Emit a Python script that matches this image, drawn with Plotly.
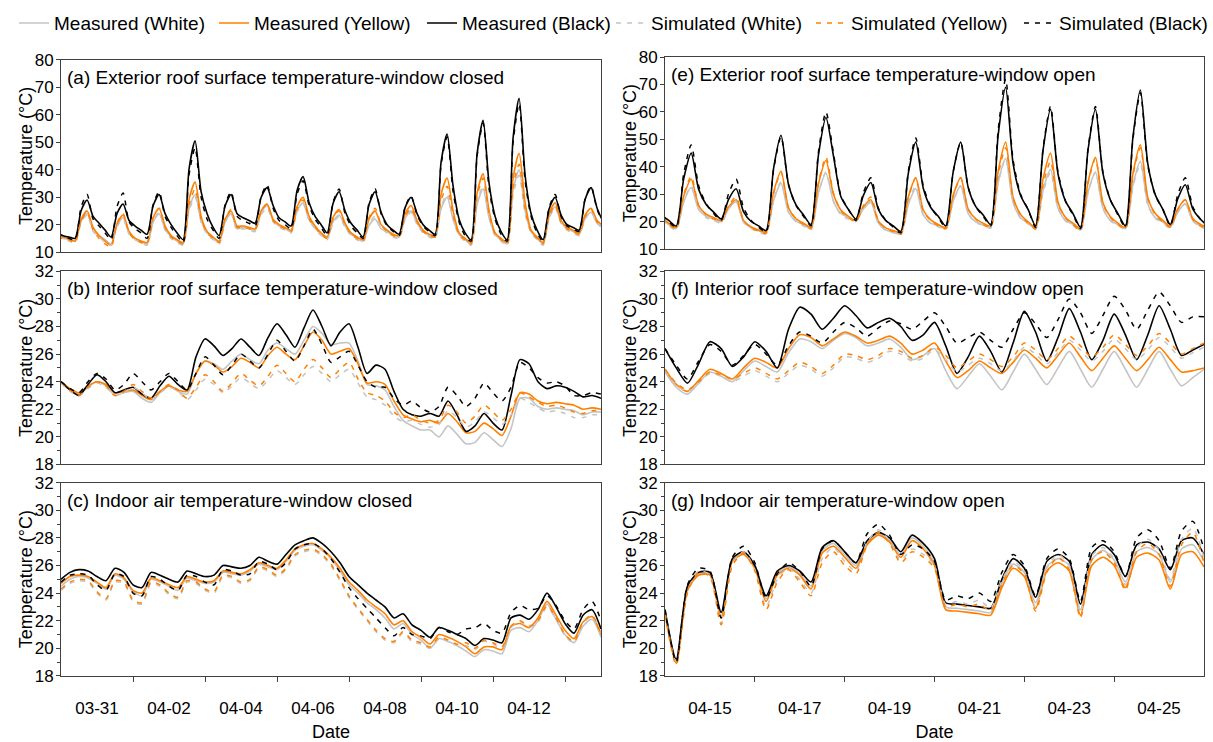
import pandas as pd
import plotly.graph_objects as go

# ---------------- time grids ----------------
t_a = pd.date_range("2021-03-29 21:24", periods=92, freq="4h")   # exterior, window closed
t_bc = pd.date_range("2021-03-30 00:00", periods=61, freq="6h")  # interior / indoor, window closed
t_e = pd.date_range("2021-04-13 22:00", periods=74, freq="4h")   # exterior, window open
t_fg = pd.date_range("2021-04-14 00:00", periods=49, freq="6h")  # interior / indoor, window open

# ---------------- (a) exterior roof surface, window closed ----------------
a_meas_white = [15.5,
    15, 14.5, 14, 21.2, 24, 18.5, 16, 14.5, 13, 19.8, 22.5, 17, 15, 14, 13, 20.9, 24, 18.5,
    15.5, 14, 13, 26, 31, 21.5, 17, 15, 13.5, 21.1, 24, 18.5, 19, 18.5, 18, 24.5, 27, 21.5,
    19.5, 18.5, 17.5, 25.1, 28, 22, 19, 16.5, 15, 21.1, 23.5, 19.5, 16.5, 15, 14, 19.8, 22, 18.5,
    17.5, 16, 15.5, 22.3, 25, 20.5, 17.5, 16, 15.5, 25.9, 30, 22, 16.5, 14.5, 13, 27.4, 33, 22.5,
    16.5, 14.5, 13, 32.4, 40, 25, 17.5, 15, 13, 22.7, 26.5, 21, 18.5, 17.5, 16.5, 22.3, 24.5, 20.5,
    19]
a_meas_yellow = [16,
    15.5, 15, 14, 21.9, 25, 19, 16, 14, 12.5, 20.4, 23.5, 17.5, 15, 14, 13.5, 22.5, 26, 19.5,
    16, 14.5, 13.5, 29.3, 35.5, 23, 17.5, 15.5, 14, 21.9, 25, 19.5, 19.5, 19, 18.5, 25, 27.5, 22,
    20, 19, 18, 26.6, 30, 23, 19.5, 17, 15.5, 22.7, 25.5, 20.5, 17, 15.5, 14.5, 22.1, 25, 20,
    18, 16.5, 16, 23.9, 27, 21.5, 18, 16.5, 16, 31.1, 37, 25, 17, 15, 13.5, 31.5, 38.5, 25,
    17, 15, 13.5, 36.9, 46, 28, 18, 15.5, 13.5, 24, 28, 21.5, 19, 18, 17, 23.5, 26, 21.5,
    19.5]
a_meas_black = [17,
    16, 15.5, 15, 25.1, 29, 23, 20.5, 18, 15.5, 24.1, 27.5, 21.5, 19.5, 18, 16.5, 26.9, 31, 24,
    20, 17, 14.5, 40.4, 50.5, 32, 24, 19, 16, 26.8, 31, 24, 22.5, 21.5, 20.5, 29.9, 33.5, 27,
    22.5, 21, 19.5, 32.5, 37.5, 28, 23, 20, 17, 27.8, 32, 25, 20.5, 18, 15.5, 27.4, 32, 24.5,
    20, 18, 16.5, 26.2, 30, 24, 20, 18, 16.5, 42.8, 53, 34, 22, 17, 14.5, 45.8, 58, 35,
    23, 17.5, 14.5, 51.6, 66, 38, 24, 18, 14.5, 25.7, 30, 23.5, 20, 19, 18, 29.2, 33.5, 26,
    21]
a_sim_white = [15.5,
    15, 14, 13.5, 20.7, 23.5, 17.5, 15.5, 13.5, 12.5, 19.3, 22, 16.5, 14.5, 13.5, 12.5, 21.1, 24.5, 18,
    15, 13.5, 12.5, 25.1, 30, 21, 16.5, 14.5, 13, 20.9, 24, 18, 18.5, 18, 17.5, 23.6, 26, 21,
    19, 18, 17, 24.6, 27.5, 21.5, 18.5, 16, 14.5, 20.6, 23, 19, 16, 14.5, 13.5, 20.3, 23, 19,
    17, 15.5, 15, 21.8, 24.5, 20, 17, 15.5, 15, 26.5, 31, 22, 16, 14, 12.5, 28, 34, 23,
    16, 14, 12.5, 30.9, 38, 24, 17, 14.5, 12.5, 22.2, 26, 20.5, 18, 17, 16, 22.1, 24.5, 20.5,
    18.5]
a_sim_yellow = [15.5,
    15, 14.5, 13.5, 21.4, 24.5, 18, 15, 13, 12, 20.6, 24, 17, 14.5, 13.5, 13, 22.4, 26, 19,
    15.5, 14, 13, 27.4, 33, 22, 17, 15, 13.5, 22.1, 25.5, 19, 19, 18.5, 18, 24.8, 27.5, 21.5,
    19.5, 18.5, 17.5, 25.8, 29, 22, 19, 16.5, 15, 22.2, 25, 20, 16.5, 15, 14, 22.6, 26, 20,
    17.5, 16, 15.5, 23.1, 26, 21, 17.5, 16, 15.5, 28.8, 34, 23.5, 16.5, 14.5, 13, 30.3, 37, 24,
    16.5, 14.5, 13, 33.9, 42, 26, 17.5, 15, 13, 23.1, 27, 21, 18.5, 17.5, 16.5, 23, 25.5, 21,
    19]
a_sim_black = [16.5,
    16, 15, 14.5, 26.4, 31, 22, 19.5, 17, 14.5, 26.7, 31.5, 21, 18.5, 17, 15, 27.2, 32, 23,
    19, 16, 13.5, 38.3, 48, 30, 22, 18, 15, 27.2, 32, 23, 21.5, 20.5, 19.5, 30.3, 34.5, 26,
    21.5, 20, 18.5, 31.1, 36, 27, 22, 19, 16, 28.2, 33, 24, 19.5, 17, 15, 28, 33, 24,
    19.5, 17.5, 16, 26.4, 30.5, 23.5, 19.5, 17.5, 16, 41.9, 52, 32, 21, 16, 14, 45, 57, 33,
    22, 16.5, 14, 50, 64, 36, 23, 17, 14, 26.2, 31, 23, 19.5, 18.5, 17.5, 29.4, 34, 25.5,
    21]

# ---------------- (b) interior roof surface, window closed ----------------
b_meas_white = [23.9, 23.4, 23.1, 23.6, 24.0, 23.7, 23.0, 23.2, 23.3, 22.8, 22.5, 23.2, 23.7, 23.3, 23.1,
    24.6, 25.5, 25.3, 24.9, 25.5, 26.0, 25.6, 25.3, 26.3, 26.8, 26.4, 26.0, 27.0, 28.0, 27.5,
    26.7, 26.8, 26.8, 25.5, 23.8, 23.7, 23.4, 22.2, 21.2, 20.8, 20.5, 20.5, 20.0, 20.8, 20.2,
    19.5, 19.6, 20.3, 19.8, 19.3, 20.6, 22.8, 22.8, 22.2, 22.0, 22.1, 22.0, 21.9, 21.6, 21.8, 21.8]
b_meas_yellow = [24.0, 23.5, 23.2, 23.7, 24.0, 23.8, 23.2, 23.3, 23.4, 23.0, 22.7, 23.3, 23.7, 23.4, 23.3,
    24.6, 25.5, 25.2, 24.7, 25.1, 25.7, 25.4, 25.0, 25.9, 26.5, 26.0, 25.6, 26.6, 27.6, 27.0,
    26.0, 26.2, 26.4, 25.3, 23.9, 24.0, 23.8, 22.6, 21.6, 21.3, 21.1, 21.2, 21.0, 21.7, 21.1,
    20.3, 20.4, 21.0, 20.6, 20.1, 21.5, 23.2, 23.1, 22.6, 22.4, 22.5, 22.4, 22.3, 22.0, 22.1, 22.0]
b_meas_black = [24.0, 23.4, 23.0, 23.8, 24.5, 24.0, 23.2, 23.4, 23.6, 23.1, 22.8, 23.7, 24.4, 23.8, 23.4,
    25.8, 27.1, 26.6, 25.9, 26.4, 27.1, 26.5, 25.9, 27.2, 28.2, 27.4, 26.5, 27.9, 29.2, 28.0,
    26.6, 27.6, 28.2, 26.5, 24.6, 25.2, 24.9, 23.3, 22.0, 21.6, 21.5, 21.7, 21.5, 22.6, 21.6,
    20.4, 20.8, 21.7, 21.0, 20.5, 23.0, 25.6, 25.3, 24.0, 23.5, 23.7, 23.6, 23.3, 22.9, 23.0, 22.8]
b_sim_white = [23.9, 23.3, 23.0, 23.5, 23.9, 23.6, 23.0, 23.2, 23.6, 23.2, 22.7, 23.2, 23.6, 23.3, 22.7,
    23.4, 24.2, 23.8, 23.2, 23.7, 24.3, 23.9, 23.5, 24.1, 24.8, 24.3, 23.8, 24.5, 25.1, 24.6,
    24.0, 24.5, 24.9, 23.9, 22.9, 22.7, 22.3, 21.5, 21.1, 21.2, 20.9, 20.7, 20.9, 21.9, 21.4,
    20.7, 21.1, 21.8, 21.4, 20.9, 21.6, 22.8, 22.5, 22.1, 21.8, 21.9, 21.7, 21.4, 21.4, 21.6, 21.6]
b_sim_yellow = [24.0, 23.4, 23.0, 23.6, 24.0, 23.7, 23.0, 23.3, 23.8, 23.3, 22.8, 23.3, 23.8, 23.4, 22.8,
    23.6, 24.5, 24.0, 23.3, 23.9, 24.6, 24.1, 23.7, 24.4, 25.2, 24.6, 24.0, 24.9, 25.6, 25.0,
    24.3, 24.9, 25.4, 24.2, 23.2, 23.0, 22.6, 21.8, 21.4, 21.6, 21.2, 21.0, 21.2, 22.3, 21.8,
    21.0, 21.5, 22.3, 21.8, 21.2, 22.0, 23.2, 22.9, 22.5, 22.2, 22.3, 22.1, 21.8, 21.7, 21.9, 21.9]
b_sim_black = [24.0, 23.5, 23.2, 24.0, 24.6, 24.2, 23.4, 23.8, 24.6, 24.0, 23.4, 24.0, 24.6, 24.0, 23.4,
    24.6, 25.8, 25.2, 24.5, 25.2, 26.0, 25.5, 25.0, 26.0, 27.0, 26.2, 25.5, 26.6, 27.8, 26.7,
    25.4, 25.8, 26.2, 25.2, 24.0, 23.6, 23.6, 22.8, 22.3, 22.6, 22.1, 21.8, 22.2, 23.6, 23.0,
    22.2, 22.8, 23.9, 23.2, 22.6, 23.6, 25.4, 25.0, 24.3, 23.9, 24.0, 23.7, 23.0, 23.0, 23.2, 23.1]

# ---------------- (c) indoor air, window closed ----------------
c_meas_white = [24.5, 25.0, 25.2, 25.1, 24.7, 24.3, 25.3, 25.0, 24.1, 23.8, 25.0, 24.8, 24.5, 24.2, 25.1,
    24.9, 24.7, 24.8, 25.5, 25.4, 25.3, 25.6, 26.1, 25.9, 25.7, 26.3, 27.1, 27.4, 27.5, 27.1,
    26.5, 25.6, 24.6, 24.0, 23.3, 22.8, 22.2, 21.4, 21.8, 21.0, 20.6, 20.0, 20.7, 20.5, 20.2,
    19.8, 19.4, 19.9, 19.8, 19.6, 21.3, 21.5, 21.2, 22.0, 23.2, 22.1, 21.0, 20.4, 21.6, 22.1, 20.8]
c_meas_yellow = [24.7, 25.2, 25.3, 25.2, 24.8, 24.4, 25.4, 25.1, 24.2, 24.0, 25.1, 24.9, 24.6, 24.4, 25.2,
    25.0, 24.8, 24.9, 25.6, 25.5, 25.4, 25.7, 26.2, 26.0, 25.8, 26.4, 27.2, 27.5, 27.6, 27.2,
    26.6, 25.8, 24.8, 24.2, 23.5, 23.0, 22.5, 21.7, 22.0, 21.2, 20.8, 20.3, 21.0, 20.8, 20.5,
    20.1, 19.6, 20.1, 20.1, 19.9, 21.6, 21.8, 21.5, 22.2, 23.4, 22.4, 21.3, 20.7, 21.9, 22.3, 21.0]
c_meas_black = [25.0, 25.5, 25.7, 25.6, 25.2, 24.9, 25.8, 25.5, 24.6, 24.4, 25.5, 25.3, 25.0, 24.8, 25.6,
    25.4, 25.2, 25.3, 26.0, 25.9, 25.8, 26.0, 26.6, 26.3, 26.1, 26.8, 27.5, 27.8, 28.0, 27.6,
    27.0, 26.2, 25.2, 24.6, 24.0, 23.5, 23.0, 22.2, 22.5, 21.7, 21.3, 20.8, 21.5, 21.3, 21.0,
    20.7, 20.2, 20.7, 20.6, 20.4, 22.2, 22.4, 22.1, 22.8, 24.0, 23.0, 21.8, 21.1, 22.4, 22.8, 21.4]
c_sim_white = [24.2, 24.7, 24.9, 24.8, 24.0, 23.5, 24.8, 24.7, 23.4, 23.2, 24.7, 24.5, 23.9, 23.6, 24.8,
    24.7, 24.2, 24.0, 25.2, 25.1, 24.7, 24.9, 25.8, 25.6, 25.2, 25.7, 26.7, 27.0, 27.1, 26.7,
    26.0, 24.9, 23.7, 22.8, 22.0, 21.2, 20.6, 20.4, 21.1, 20.5, 20.3, 20.0, 20.7, 20.5, 20.2,
    20.2, 19.9, 20.5, 20.3, 20.0, 21.5, 21.9, 21.5, 21.9, 23.0, 22.1, 20.9, 20.4, 21.8, 22.3, 20.9]
c_sim_yellow = [24.3, 24.8, 25.0, 24.9, 24.1, 23.6, 24.9, 24.8, 23.5, 23.3, 24.8, 24.6, 24.0, 23.7, 24.9,
    24.8, 24.3, 24.1, 25.3, 25.2, 24.8, 25.0, 25.9, 25.7, 25.3, 25.8, 26.8, 27.1, 27.2, 26.8,
    26.1, 25.0, 23.8, 22.9, 22.1, 21.3, 20.7, 20.5, 21.2, 20.6, 20.4, 20.1, 20.8, 20.6, 20.3,
    20.4, 20.0, 20.6, 20.4, 20.1, 21.6, 22.0, 21.6, 22.0, 23.1, 22.2, 21.0, 20.5, 21.9, 22.4, 21.0]
c_sim_black = [24.8, 25.3, 25.4, 25.3, 24.6, 24.2, 25.4, 25.2, 24.0, 23.8, 25.2, 25.0, 24.5, 24.2, 25.3,
    25.2, 24.8, 24.6, 25.7, 25.6, 25.3, 25.4, 26.3, 26.1, 25.7, 26.2, 27.2, 27.5, 27.6, 27.2,
    26.5, 25.5, 24.4, 23.6, 22.9, 22.2, 21.5, 20.9, 21.5, 21.0, 20.9, 20.7, 21.5, 21.2, 21.0,
    21.4, 21.5, 21.8, 21.3, 21.1, 22.6, 23.1, 22.8, 22.9, 23.8, 23.1, 22.0, 21.4, 22.8, 23.4, 22.0]

# ---------------- (e) exterior roof surface, window open ----------------
e_meas_white = [21.0,
    19.0, 17.5, 27.3, 32.5, 24.5, 22.0, 21.0, 20.0, 24.7, 27.3, 20.0, 17.8,
    16.7, 16.0, 27.7, 34.0, 23.5, 20.2, 19.0, 17.5, 30.6, 37.7, 27.5, 23.0,
    21.5, 20.5, 24.7, 27.0, 19.5, 17.0, 16.2, 15.5, 26.2, 32.0, 22.5, 19.5,
    18.5, 17.5, 27.6, 33.0, 23.0, 20.0, 19.0, 18.0, 34.3, 43.0, 27.0, 21.5,
    19.5, 17.5, 31.5, 39.0, 25.0, 20.5, 19.0, 17.0, 30.7, 38.0, 25.0, 20.5,
    19.0, 17.5, 33.4, 42.0, 26.5, 21.5, 20.0, 18.0, 23.5, 26.5, 20.5, 18.5,
    17.5]
e_meas_yellow = [21.5,
    19.5, 18.0, 29.4, 35.5, 25.8, 22.8, 21.5, 20.5, 25.4, 28.0, 20.4, 18.1,
    17.0, 16.3, 30.7, 38.4, 25.1, 21.1, 19.5, 18.0, 33.8, 42.3, 30.0, 24.3,
    22.0, 20.5, 25.4, 28.0, 20.2, 17.8, 16.8, 16.0, 29.0, 36.0, 24.3, 20.7,
    19.0, 18.0, 29.7, 36.0, 24.6, 21.1, 19.5, 18.5, 38.3, 49.0, 28.9, 22.7,
    20.0, 18.0, 35.6, 45.0, 27.1, 21.6, 19.5, 17.5, 34.4, 43.5, 26.9, 21.8,
    19.5, 18.0, 37.5, 48.0, 28.8, 23.0, 20.5, 18.5, 24.7, 28.0, 21.2, 19.1,
    18.0]
e_meas_black = [22.5,
    20.5, 18.5, 35.7, 45.0, 31.8, 26.3, 23.5, 21.0, 28.2, 32.0, 23.6, 20.1,
    18.5, 16.8, 39.4, 51.5, 33.6, 26.2, 22.5, 19.0, 44.4, 58.0, 44.0, 29.1,
    24.5, 21.0, 29.6, 34.3, 24.5, 20.4, 18.5, 16.5, 37.6, 49.0, 32.2, 25.2,
    22.0, 18.5, 38.3, 49.0, 32.5, 25.6, 22.5, 19.0, 51.5, 69.0, 41.2, 29.6,
    24.5, 18.5, 46.1, 61.0, 37.4, 27.5, 23.0, 18.0, 46.0, 61.0, 37.6, 27.9,
    23.0, 18.5, 50.7, 68.0, 41.0, 29.8, 24.5, 19.0, 28.4, 33.5, 24.7, 21.0,
    18.5]
e_sim_white = [20.5,
    18.5, 17.0, 27.4, 33.0, 24.5, 21.5, 20.5, 19.5, 24.7, 27.5, 19.8, 17.5,
    16.3, 15.5, 27.9, 34.5, 23.5, 20.0, 18.5, 17.0, 30.7, 38.0, 27.5, 22.5,
    21.0, 20.0, 24.9, 27.5, 19.5, 16.8, 16.0, 15.2, 26.8, 33.0, 22.5, 19.3,
    18.2, 17.2, 27.5, 33.0, 23.0, 19.8, 18.7, 17.7, 34.1, 43.0, 27.0, 21.3,
    19.2, 17.2, 30.7, 38.0, 24.8, 20.3, 18.7, 16.7, 30.5, 38.0, 24.8, 20.3,
    18.7, 17.2, 32.6, 41.0, 26.0, 21.2, 19.7, 17.7, 23.4, 26.5, 20.3, 18.2,
    17.2]
e_sim_yellow = [21.0,
    19.0, 17.5, 29.9, 36.5, 26.0, 22.5, 21.0, 20.0, 25.9, 29.0, 20.5, 18.0,
    16.5, 15.8, 30.2, 38.0, 25.0, 21.0, 19.0, 17.5, 34.4, 43.5, 30.5, 24.0,
    21.5, 20.0, 25.9, 29.0, 20.5, 17.5, 16.5, 15.5, 28.8, 36.0, 24.0, 20.5,
    18.5, 17.5, 29.5, 36.0, 24.5, 21.0, 19.0, 18.0, 36.9, 47.0, 28.5, 22.5,
    19.5, 17.5, 33.4, 42.0, 26.5, 21.5, 19.0, 17.0, 33.9, 43.0, 26.5, 21.5,
    19.0, 17.5, 36.7, 47.0, 28.5, 22.5, 20.0, 18.0, 24.5, 28.0, 21.0, 18.5,
    17.5]
e_sim_black = [22.0,
    20.0, 18.0, 37.5, 48.0, 33.0, 26.5, 23.0, 20.5, 30.3, 35.5, 25.0, 20.5,
    18.0, 16.3, 38.9, 51.0, 33.5, 26.0, 22.0, 18.5, 45.5, 60.0, 45.0, 29.5,
    24.5, 20.5, 30.6, 36.0, 25.0, 20.5, 18.0, 16.0, 38.4, 50.5, 33.0, 25.5,
    21.5, 18.0, 38.2, 49.0, 32.5, 25.5, 22.0, 18.5, 53.3, 72.0, 42.5, 30.0,
    24.5, 18.0, 46.6, 62.0, 38.0, 27.5, 22.5, 17.5, 46.4, 62.0, 38.0, 28.0,
    22.5, 18.0, 49.9, 67.0, 40.5, 29.5, 24.5, 18.5, 29.9, 36.0, 25.5, 21.0,
    18.0]

# ---------------- (f) interior roof surface, window open ----------------
f_meas_white = [24.7, 23.6, 23.1, 23.9, 24.7, 24.4, 24.0, 24.8, 25.5, 25.1, 24.7, 26.1, 27.1, 26.9, 26.4,
    27.0, 27.5, 27.2, 26.6, 26.8, 27.1, 26.5, 25.6, 25.9, 26.4, 24.8, 23.5, 24.4, 25.3, 24.4,
    23.4, 24.7, 26.0, 24.9, 23.8, 25.0, 26.2, 24.9, 23.6, 24.9, 26.2, 24.9, 23.6, 24.9, 26.2,
    24.9, 23.7, 24.3, 24.9]
f_meas_yellow = [24.9, 23.8, 23.3, 24.1, 24.9, 24.6, 24.2, 25.0, 25.7, 25.4, 25.0, 26.4, 27.4, 27.2, 26.6,
    27.1, 27.6, 27.3, 26.8, 27.0, 27.3, 26.8, 26.0, 26.3, 26.8, 25.5, 24.3, 24.8, 25.5, 25.0,
    24.6, 25.4, 26.3, 25.7, 25.0, 25.9, 26.8, 25.8, 24.8, 25.7, 26.6, 25.7, 24.8, 25.6, 26.5,
    25.6, 24.7, 24.8, 25.0]
f_meas_black = [26.4, 25.0, 23.9, 25.3, 26.9, 26.4, 25.1, 25.8, 26.9, 26.2, 25.0, 27.8, 29.4, 28.9, 27.8,
    28.6, 29.5, 28.8, 27.9, 28.3, 28.6, 28.0, 27.0, 27.4, 28.3, 26.6, 24.6, 25.8, 27.3, 26.2,
    24.7, 26.8, 29.1, 27.6, 25.5, 27.2, 29.3, 27.6, 25.6, 27.0, 28.9, 27.4, 25.6, 27.4, 29.5,
    27.8, 25.9, 26.3, 26.7]
f_sim_white = [24.8, 23.8, 23.3, 23.9, 24.6, 24.4, 24.0, 24.4, 24.8, 24.4, 24.0, 24.6, 25.2, 24.9, 24.4,
    25.0, 25.8, 25.7, 25.4, 25.7, 26.2, 26.0, 25.5, 25.7, 26.3, 25.6, 24.7, 25.2, 25.7, 25.3,
    24.8, 25.5, 26.5, 26.0, 25.3, 26.1, 27.0, 26.3, 25.5, 26.2, 27.1, 26.4, 25.6, 26.3, 27.2,
    26.5, 25.7, 26.1, 26.5]
f_sim_yellow = [24.9, 23.9, 23.4, 24.0, 24.7, 24.5, 24.2, 24.6, 25.0, 24.6, 24.2, 24.8, 25.4, 25.1, 24.6,
    25.2, 26.0, 25.9, 25.6, 25.9, 26.4, 26.2, 25.7, 25.9, 26.5, 25.9, 25.0, 25.5, 26.0, 25.6,
    25.1, 25.8, 26.8, 26.3, 25.6, 26.4, 27.3, 26.6, 25.8, 26.5, 27.4, 26.7, 25.9, 26.6, 27.5,
    26.8, 26.0, 26.4, 26.8]
f_sim_black = [26.4, 25.2, 24.2, 25.5, 26.7, 26.2, 25.2, 25.9, 26.7, 26.0, 25.2, 26.6, 27.6, 27.3, 26.8,
    27.6, 28.3, 27.9, 27.3, 27.9, 28.4, 28.2, 27.8, 28.4, 29.0, 28.0, 26.8, 27.2, 27.6, 27.0,
    26.5, 27.8, 29.0, 28.2, 27.2, 28.5, 30.0, 29.0, 27.5, 28.8, 30.2, 29.2, 27.8, 29.2, 30.5,
    29.5, 28.3, 28.7, 28.7]

# ---------------- (g) indoor air, window open ----------------
g_meas_white = [22.6, 19.0, 24.3, 25.4, 25.4, 22.3, 26.4, 26.9, 25.9, 23.6, 25.5, 25.9, 25.4, 24.5, 27.1,
    27.6, 26.8, 26.0, 27.6, 28.3, 27.8, 26.8, 28.0, 27.4, 26.2, 23.0, 22.9, 22.8, 22.7, 22.6,
    24.7, 26.1, 25.5, 23.3, 25.9, 26.5, 26.0, 22.8, 26.4, 27.1, 26.4, 24.8, 27.0, 27.3, 26.8,
    24.8, 27.2, 27.5, 26.3]
g_meas_yellow = [22.5, 18.9, 24.2, 25.3, 25.3, 22.2, 26.3, 26.8, 25.8, 23.4, 25.3, 25.8, 25.3, 24.3, 26.9,
    27.4, 26.6, 25.8, 27.5, 28.2, 27.7, 26.6, 27.8, 27.2, 26.0, 22.8, 22.7, 22.6, 22.5, 22.4,
    24.4, 25.8, 25.2, 22.9, 25.6, 26.2, 25.6, 22.4, 26.0, 26.6, 26.0, 24.4, 26.6, 26.9, 26.4,
    24.3, 26.8, 27.0, 25.9]
g_meas_black = [22.8, 19.2, 24.5, 25.5, 25.5, 22.6, 26.5, 27.0, 26.0, 23.8, 25.6, 26.0, 25.6, 24.8, 27.3,
    27.8, 27.0, 26.2, 27.8, 28.4, 28.0, 27.0, 28.2, 27.6, 26.5, 23.3, 23.2, 23.1, 23.0, 22.9,
    25.0, 26.5, 25.8, 23.7, 26.3, 26.8, 26.3, 23.2, 26.8, 27.5, 26.8, 25.2, 27.5, 27.7, 27.2,
    25.7, 27.8, 28.0, 26.8]
g_sim_white = [22.6, 18.9, 24.1, 25.6, 25.3, 21.8, 26.1, 27.0, 25.7, 23.0, 25.0, 25.8, 25.0, 24.0, 26.5,
    27.3, 26.3, 25.6, 27.7, 28.6, 27.8, 26.4, 27.2, 26.8, 26.0, 23.2, 23.4, 23.2, 23.5, 22.9,
    24.9, 26.3, 25.6, 23.0, 25.8, 26.8, 26.0, 22.6, 26.7, 27.3, 26.5, 24.6, 27.3, 27.9, 27.1,
    25.0, 27.9, 28.7, 26.6]
g_sim_yellow = [22.5, 18.8, 24.0, 25.5, 25.2, 21.7, 26.0, 26.9, 25.6, 22.8, 24.8, 25.7, 24.8, 23.8, 26.2,
    27.0, 26.0, 25.4, 27.5, 28.4, 27.6, 26.2, 27.0, 26.6, 25.8, 23.0, 23.2, 23.0, 23.2, 22.7,
    24.6, 26.0, 25.4, 22.7, 25.5, 26.6, 25.7, 22.2, 26.4, 27.0, 26.2, 24.2, 27.0, 27.6, 26.8,
    24.5, 27.5, 28.4, 26.2]
g_sim_black = [22.8, 19.0, 24.6, 25.8, 25.6, 22.2, 26.6, 27.4, 26.2, 23.6, 25.4, 26.2, 25.6, 24.5, 27.2,
    27.8, 27.0, 26.2, 28.3, 29.0, 28.2, 26.8, 27.5, 27.2, 26.3, 23.5, 23.8, 23.6, 24.0, 23.4,
    25.5, 26.8, 26.0, 23.8, 26.5, 27.2, 26.5, 23.4, 27.3, 27.8, 27.0, 25.2, 28.0, 28.6, 27.8,
    25.8, 28.5, 29.2, 27.2]

# ---------------- tick labels ----------------
left_labels = ["2021-03-31", "2021-04-02", "2021-04-04", "2021-04-06", "2021-04-08", "2021-04-10", "2021-04-12"]
left_ticks = ["2021-04-01", "2021-04-03", "2021-04-05", "2021-04-07", "2021-04-09", "2021-04-11", "2021-04-13"]
right_labels = ["2021-04-15", "2021-04-17", "2021-04-19", "2021-04-21", "2021-04-23", "2021-04-25"]
right_ticks = ["2021-04-16", "2021-04-18", "2021-04-20", "2021-04-22", "2021-04-24"]
left_range = ["2021-03-30 00:00", "2021-04-14 00:00"]
right_range = ["2021-04-14 00:00", "2021-04-26 00:00"]

# ---------------- styling ----------------
FONT = "Arial, Liberation Sans, sans-serif"
WHITE, YELLOW, BLACK = "#c4c4c4", "#ff8000", "#000000"
AXIS = "#404040"
W, H = 1213, 742

series_names = ["Measured (White)", "Measured (Yellow)", "Measured (Black)",
                "Simulated (White)", "Simulated (Yellow)", "Simulated (Black)"]
series_colors = [WHITE, YELLOW, BLACK, WHITE, YELLOW, BLACK]
legend_ids = ["legend", "legend2", "legend3", "legend4", "legend5", "legend6"]
legend_left_px = [19, 219, 427, 616, 816, 1024]

panels = [
    # (t, series, title, y-range, column, row)
    (t_a, [a_meas_white, a_meas_yellow, a_meas_black, a_sim_white, a_sim_yellow, a_sim_black],
     "(a) Exterior roof surface temperature-window closed", (10, 80), 0, 0),
    (t_bc, [b_meas_white, b_meas_yellow, b_meas_black, b_sim_white, b_sim_yellow, b_sim_black],
     "(b) Interior roof surface temperature-window closed", (18, 32), 0, 1),
    (t_bc, [c_meas_white, c_meas_yellow, c_meas_black, c_sim_white, c_sim_yellow, c_sim_black],
     "(c) Indoor air temperature-window closed", (18, 32), 0, 2),
    (t_e, [e_meas_white, e_meas_yellow, e_meas_black, e_sim_white, e_sim_yellow, e_sim_black],
     "(e) Exterior roof surface temperature-window open", (10, 80), 1, 0),
    (t_fg, [f_meas_white, f_meas_yellow, f_meas_black, f_sim_white, f_sim_yellow, f_sim_black],
     "(f) Interior roof surface temperature-window open", (18, 32), 1, 1),
    (t_fg, [g_meas_white, g_meas_yellow, g_meas_black, g_sim_white, g_sim_yellow, g_sim_black],
     "(g) Indoor air temperature-window open", (18, 32), 1, 2),
]

# plot-area pixel boxes
col_px = [(61, 601), (665, 1204)]
row_px = {0: [(53, 253), (50, 250)], 1: [(273, 474), (273, 474)], 2: [(493, 694), (493, 694)]}

fig = go.Figure()
annotations = []
for idx, (t, ys, title, yr, col, row) in enumerate(panels):
    n = idx + 1
    xa = "x" if n == 1 else f"x{n}"
    ya = "y" if n == 1 else f"y{n}"
    for s, (name, color, y) in enumerate(zip(series_names, series_colors, ys)):
        fig.add_trace(go.Scatter(
            x=t, y=y, mode="lines", name=name, xaxis=xa, yaxis=ya,
            showlegend=(n == 1), legend=legend_ids[s],
            line=dict(color=color, width=1.6 if s < 3 else 1.5,
                      dash="solid" if s < 3 else "5px,6px",
                      shape="spline", smoothing=0.7),
        ))
    x0, x1 = col_px[col]
    y0, y1 = row_px[row][col]
    bottom = row == 2
    labels = left_labels if col == 0 else right_labels
    ticks = left_ticks if col == 0 else right_ticks
    xaxis = dict(
        domain=[x0 / W, x1 / W], anchor=ya, type="date",
        range=left_range if col == 0 else right_range,
        showline=True, mirror=True, linecolor=AXIS, linewidth=1,
        showgrid=False, zeroline=False,
        tickmode="array", tickvals=labels if bottom else [], tickformat="%m-%d",
        ticks="", showticklabels=bottom, ticklabelstandoff=17 if bottom else 0,
        tickfont=dict(family=FONT, size=17, color="#000"),
        minor=dict(tickmode="array", tickvals=ticks if bottom else [], ticks="outside" if bottom else "",
                   ticklen=5, tickcolor=AXIS, tickwidth=1, showgrid=False),
    )
    if bottom:
        xaxis["title"] = dict(text="Date", font=dict(family=FONT, size=18, color="#000"), standoff=11)
    ydt = 10 if yr[0] == 10 else 2
    yaxis = dict(
        domain=[1 - y1 / H, 1 - y0 / H], anchor=xa, range=list(yr),
        showline=True, mirror=True, linecolor=AXIS, linewidth=1,
        showgrid=False, zeroline=False,
        tickmode="linear", tick0=yr[0], dtick=ydt, ticks="outside", ticklen=4,
        tickcolor=AXIS, tickwidth=1, ticklabelstandoff=-1,
        tickfont=dict(family=FONT, size=17, color="#000"),
    )
    if ydt == 2:
        yaxis["minor"] = dict(tickmode="linear", tick0=19, dtick=2, ticks="outside", ticklen=3,
                              tickcolor=AXIS, tickwidth=1, showgrid=False)
    key = "" if n == 1 else str(n)
    fig.layout["xaxis" + key] = xaxis
    fig.layout["yaxis" + key] = yaxis
    # panel label inside the plot area
    annotations.append(dict(
        text=title, xref=f"{xa} domain", yref=f"{ya} domain", x=0.008, y=0.975,
        xanchor="left", yanchor="top", showarrow=False,
        font=dict(family=FONT, size=19, color="#000"),
    ))
    # rotated y-axis title, set close to the tick labels
    annotations.append(dict(
        text="Temperature (°C)", xref="paper", yref="paper",
        x=(x0 - 35) / W, y=1 - (y0 + y1) / 2 / H, xanchor="center", yanchor="middle",
        textangle=-90, showarrow=False,
        font=dict(family=FONT, size=18, color="#000"),
    ))

legend_layout = {}
for lid, px in zip(legend_ids, legend_left_px):
    legend_layout[lid] = dict(
        orientation="h", x=(px - 5) / W, y=1 + 5 / H, xanchor="left", yanchor="top",
        font=dict(family=FONT, size=19, color="#000"), bgcolor="rgba(0,0,0,0)",
        itemwidth=30, borderwidth=0)

fig.update_layout(
    width=W, height=H, margin=dict(l=0, r=0, t=0, b=0),
    paper_bgcolor="white", plot_bgcolor="white",
    annotations=annotations,
    font=dict(family=FONT),
    **legend_layout,
)
fig.write_html("out.html")
